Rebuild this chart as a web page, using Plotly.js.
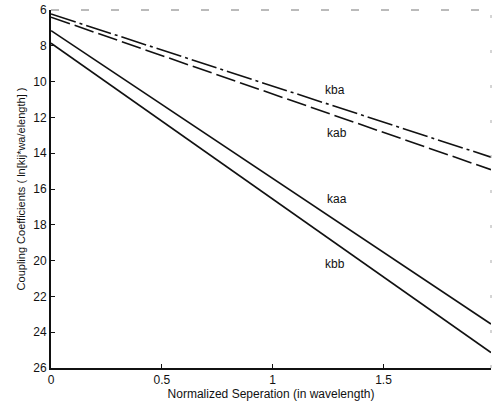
<!DOCTYPE html>
<html>
<head>
<meta charset="utf-8">
<script src="https://cdn.plot.ly/plotly-3.0.1.min.js"></script>
<style>html,body{margin:0;padding:0;background:#fff;}#chart{width:493px;height:408px;}</style>
</head>
<body>
<div id="chart"></div>
<script>
// Normalized separation (in wavelengths)
const separation = [0, 0.25, 0.5, 0.75, 1.0, 1.25, 1.5, 1.75, 1.985];

// Coupling coefficients, ln[kij*wavelength]
const kba = [6.22, 7.23, 8.24, 9.25, 10.25, 11.26, 12.27, 13.27, 14.22];
const kab = [6.40, 7.47, 8.55, 9.62, 10.69, 11.77, 12.84, 13.91, 14.92];
const kaa = [7.15, 9.21, 11.28, 13.34, 15.41, 17.47, 19.54, 21.60, 23.54];
const kbb = [7.85, 10.03, 12.21, 14.38, 16.56, 18.74, 20.92, 23.09, 25.14];

const seriesNames = ['kba', 'kab', 'kaa', 'kbb'];
const labelX = [1.28, 1.29, 1.29, 1.28];
const labelY = [10.45, 12.85, 16.55, 20.2];

const xTicks = [0, 0.5, 1, 1.5];
const xTickText = ['0', '0.5', '1', '1.5'];
const yTicks = [6, 8, 10, 12, 14, 16, 18, 20, 22, 24, 26];

const font = {family: 'Liberation Sans, Arial, sans-serif', color: '#111'};

const traces = [
  {x: separation, y: kba, name: 'kba', mode: 'lines',
   line: {color: '#111', width: 1.6, dash: '26px,4px,3px,4px'}},
  {x: separation, y: kab, name: 'kab', mode: 'lines',
   line: {color: '#111', width: 1.6, dash: '20px,5px'}},
  {x: separation, y: kaa, name: 'kaa', mode: 'lines',
   line: {color: '#111', width: 1.7}},
  {x: separation, y: kbb, name: 'kbb', mode: 'lines',
   line: {color: '#111', width: 1.7}}
];

const annotations = seriesNames.map((n, i) => ({
  x: labelX[i], y: labelY[i], text: n, showarrow: false,
  font: Object.assign({size: 12}, font)
}));

const layout = {
  width: 493, height: 408,
  margin: {l: 51, r: 2, t: 10, b: 40},
  paper_bgcolor: '#fff', plot_bgcolor: '#fff',
  showlegend: false,
  font: Object.assign({size: 12}, font),
  xaxis: {
    range: [0, 1.985], tickvals: xTicks, ticktext: xTickText,
    showgrid: false, zeroline: false,
    showline: true, linecolor: '#111', linewidth: 2,
    ticks: 'inside', ticklen: 4, tickcolor: '#111',
    tickfont: Object.assign({size: 12}, font),
    title: {text: 'Normalized Seperation (in wavelength)', standoff: 1,
            font: Object.assign({size: 12}, font)}
  },
  yaxis: {
    range: [26, 6], tickvals: yTicks,
    showgrid: false, zeroline: false,
    showline: true, linecolor: '#111', linewidth: 2,
    ticks: 'inside', ticklen: 4, tickcolor: '#111',
    tickfont: Object.assign({size: 12}, font),
    title: {text: 'Coupling Coefficients ( ln[kij*wa/elength] )', standoff: 5,
            font: Object.assign({size: 11}, font)}
  },
  annotations: annotations,
  shapes: [
    {type: 'line', xref: 'paper', yref: 'paper', x0: 0, x1: 1, y0: 1, y1: 1,
     line: {color: '#777', width: 1, dash: '8px,22px'}},
    {type: 'line', xref: 'paper', yref: 'paper', x0: 1, x1: 1, y0: 0, y1: 1,
     line: {color: '#aaa', width: 1, dash: '3px,32px'}}
  ]
};

Plotly.newPlot('chart', traces, layout, {staticPlot: true});
</script>
</body>
</html>
